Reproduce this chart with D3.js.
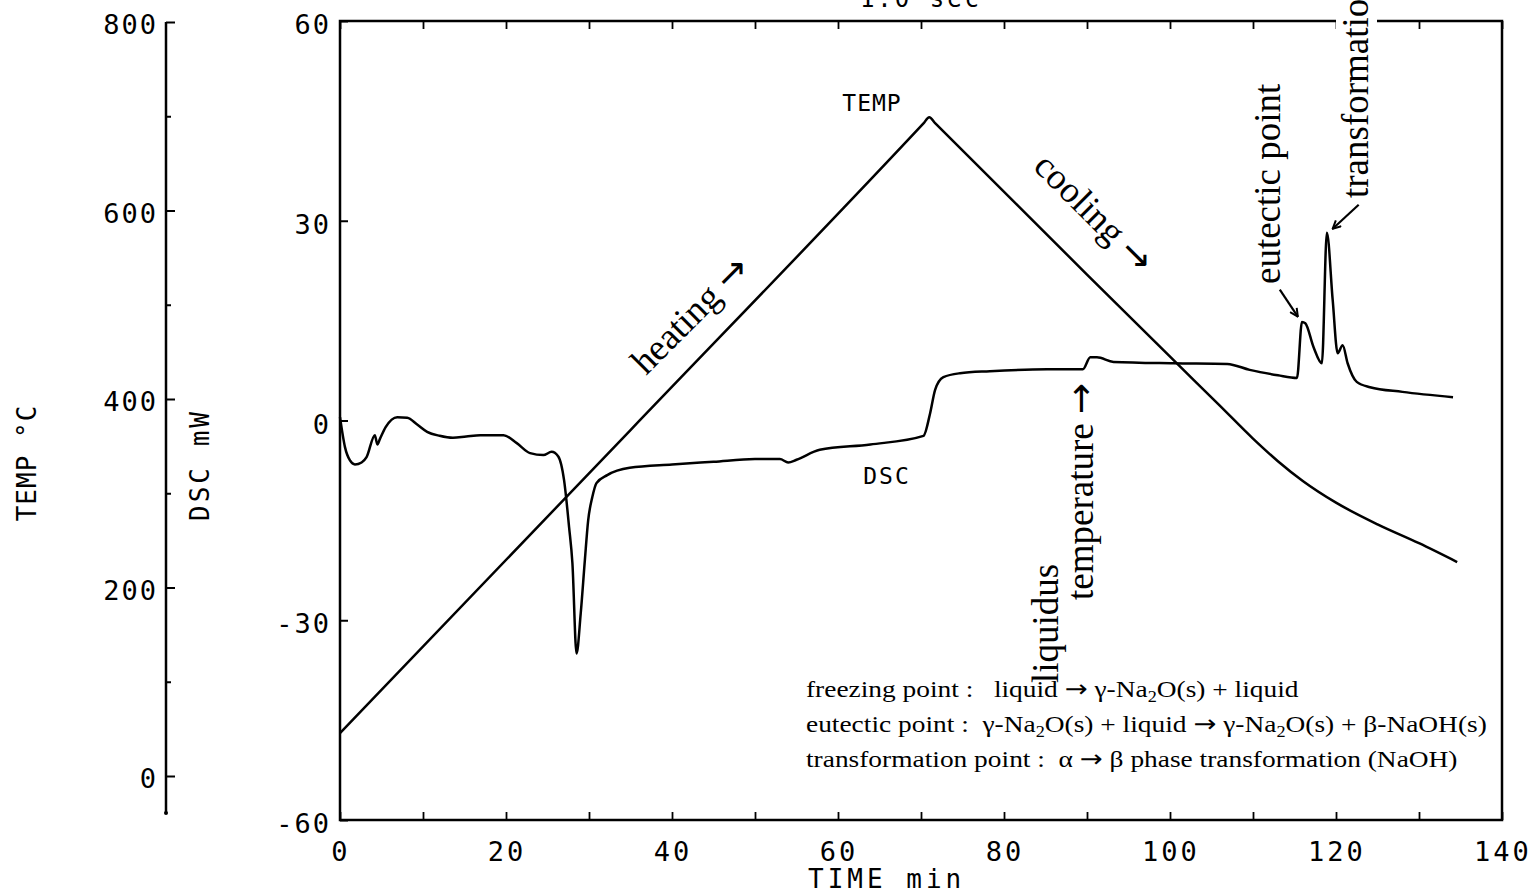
<!DOCTYPE html>
<html><head><meta charset="utf-8">
<script src="https://cdn.jsdelivr.net/npm/d3@7"></script>
<style>
html,body{margin:0;padding:0;background:#fff;overflow:hidden;}
svg{display:block;}
.mono{font-family:"DejaVu Sans Mono",monospace;fill:#000;}
.serif{font-family:"Liberation Serif","Times New Roman",serif;fill:#000;white-space:pre;}
</style></head><body>
<svg id="chart" width="1535" height="894"></svg>
<script>
// ---------- data ----------
const timeTicks = [0,10,20,30,40,50,60,70,80,90,100,110,120,130,140];
const timeLabels = [0,20,40,60,80,100,120,140];
const dscTicks = [-60,-30,0,30,60];
const tempTicks = [0,200,400,600,800];
const tempMinorTicks = [100,300,500,700];

const tempTime   = [0, 35, 70.3, 71, 71.7, 90, 100.8, 106, 110, 113, 116, 120, 125, 130, 134.6];
const tempValues = [45.6, 367, 692.4, 699, 692.8, 532, 438, 393, 358, 334, 313, 290, 267, 247, 227];

const dscTime = [0,0.6,1.2,1.8,2.6,3.2,4.2,4.5,4.8,5.5,6.9,8.1,9.3,10.5,12,13.6,15.2,16.9,19.7,21.3,22.9,24.5,25.5,26.3,27.0,27.6,28.0,28.5,29.0,29.5,29.9,30.4,30.9,32.2,34.9,40,45,50,53,54,55,57.8,63.9,70.3,71.1,71.7,72.7,74.7,78.3,85.2,89.5,90.4,91.2,93.2,100.4,106.9,109.6,113,115.3,115.9,116.3,117.3,118.3,118.9,119.6,120.2,120.8,121.4,122.5,124.1,128,134.1];
const dscValues = [0.5,-4,-6.0,-6.6,-6.3,-5.5,-2.2,-3.6,-2.8,-1.0,0.5,0.4,-0.6,-1.7,-2.3,-2.6,-2.4,-2.2,-2.2,-3.4,-4.9,-5.2,-4.7,-5.4,-9,-16,-21.4,-35,-29,-21,-15,-11.5,-9.4,-8.2,-7.1,-6.6,-6.2,-5.8,-5.8,-6.3,-5.9,-4.4,-3.6,-2.3,1.1,4.6,6.5,7.1,7.4,7.7,7.7,9.5,9.5,8.8,8.6,8.5,7.6,6.8,6.4,14.8,14.6,11.0,8.6,28.2,18.1,10.1,11.3,8.6,5.8,5.0,4.3,3.5];

const legendLines = [
  [["freezing point :   liquid \u2192 \u03b3-Na"],["2",1],["O(s) + liquid"]],
  [["eutectic point :  \u03b3-Na"],["2",1],["O(s) + liquid \u2192 \u03b3-Na"],["2",1],["O(s) + \u03b2-NaOH(s)"]],
  [["transformation point :  \u03b1 \u2192 \u03b2 phase transformation (NaOH)"]]
];

// ---------- helpers ----------
function appendRich(textSel, str) {
  const out = [];
  str.split(/(\u2192)/).forEach(s => {
    if (!s) return;
    const ts = textSel.append("tspan").text(s);
    if (s === "\u2192") ts.attr("font-family","DejaVu Sans");
    out.push(ts);
  });
  return out;
}

// ---------- scales ----------
const svg = d3.select("#chart");
const x = d3.scaleLinear().domain([0,140]).range([340,1502]);
const yD = d3.scaleLinear().domain([-60,60]).range([820,21]);
const yT = d3.scaleLinear().domain([0,800]).range([776,22]);

svg.append("defs").append("marker")
  .attr("id","ah").attr("viewBox","0 0 10 10").attr("refX",9).attr("refY",5)
  .attr("markerWidth",10).attr("markerHeight",10).attr("markerUnits","userSpaceOnUse")
  .attr("orient","auto")
  .append("path").attr("d","M1,1 L9,5 L1,9").attr("fill","none").attr("stroke","#000").attr("stroke-width",2);

// ---------- frame ----------
const lw = 2.5;
svg.append("rect").attr("x",x(0)).attr("y",yD(60)).attr("width",x(140)-x(0)).attr("height",yD(-60)-yD(60))
  .attr("fill","none").attr("stroke","#000").attr("stroke-width",lw);

const gB = svg.append("g").attr("transform",`translate(0,${yD(-60)})`)
  .call(d3.axisBottom(x).tickValues(timeTicks).tickSize(-8).tickFormat(""));
gB.select(".domain").remove();
gB.selectAll("line").attr("stroke","#000").attr("stroke-width",1.8);
const gTop = svg.append("g").attr("transform",`translate(0,${yD(60)})`)
  .call(d3.axisTop(x).tickValues(timeTicks).tickSize(-8).tickFormat(""));
gTop.select(".domain").remove();
gTop.selectAll("line").attr("stroke","#000").attr("stroke-width",1.8);
const gL = svg.append("g").attr("transform",`translate(${x(0)},0)`)
  .call(d3.axisLeft(yD).tickValues(dscTicks).tickSize(-8).tickFormat(""));
gL.select(".domain").remove();
gL.selectAll("line").attr("stroke","#000").attr("stroke-width",2);

// x labels
svg.append("g").selectAll("text").data(timeLabels).join("text")
  .attr("class","mono").attr("x",d=>x(d)+1).attr("y",861)
  .attr("text-anchor","middle").attr("font-size",27).attr("letter-spacing",3)
  .text(d=>d);
svg.append("text").attr("class","mono").attr("x",808).attr("y",888)
  .attr("font-size",26).attr("letter-spacing",4).text("TIME min");

// DSC labels
svg.append("g").selectAll("text").data(dscTicks).join("text")
  .attr("class","mono").attr("x",331).attr("y",d=>yD(d)+13)
  .attr("text-anchor","end").attr("font-size",27).attr("letter-spacing",2)
  .text(d=>String(d));

// TEMP axis
const tx = 166;
svg.append("line").attr("x1",tx).attr("x2",tx).attr("y1",yT(800)).attr("y2",813)
  .attr("stroke","#000").attr("stroke-width",lw);
svg.append("circle").attr("cx",tx).attr("cy",813).attr("r",2).attr("fill","#000");
const gT = svg.append("g").attr("transform",`translate(${tx},0)`)
  .call(d3.axisRight(yT).tickValues(tempTicks).tickSize(9).tickFormat(""));
gT.select(".domain").remove();
gT.selectAll("line").attr("stroke","#000").attr("stroke-width",2);
const gTm = svg.append("g").attr("transform",`translate(${tx},0)`)
  .call(d3.axisRight(yT).tickValues(tempMinorTicks).tickSize(5).tickFormat(""));
gTm.select(".domain").remove();
gTm.selectAll("line").attr("stroke","#000").attr("stroke-width",2);
svg.append("g").selectAll("text").data(tempTicks).join("text")
  .attr("class","mono").attr("x",158).attr("y",d=>yT(d)+12)
  .attr("text-anchor","end").attr("font-size",27).attr("letter-spacing",2)
  .text(d=>d);

// axis titles
svg.append("text").attr("class","mono").attr("transform","translate(27,463) rotate(-90)")
  .attr("text-anchor","middle").attr("dominant-baseline","central").attr("font-size",26).attr("letter-spacing",1)
  .text("TEMP \u00b0C");
svg.append("text").attr("class","mono").attr("transform","translate(200,465) rotate(-90)")
  .attr("text-anchor","middle").attr("dominant-baseline","central").attr("font-size",26).attr("letter-spacing",3)
  .text("DSC mW");
svg.append("text").attr("class","mono").attr("x",921).attr("y",7)
  .attr("text-anchor","middle").attr("font-size",24).attr("letter-spacing",3).text("1.0 sec");

// ---------- curves ----------
const tempData = tempTime.map((t,i)=>[t,tempValues[i]]);
const dscData = dscTime.map((t,i)=>[t,dscValues[i]]);
svg.append("path").datum(tempData)
  .attr("d", d3.line().x(d=>x(d[0])).y(d=>yT(d[1])).curve(d3.curveMonotoneX))
  .attr("fill","none").attr("stroke","#000").attr("stroke-width",2.5);
svg.append("path").datum(dscData)
  .attr("d", d3.line().x(d=>x(d[0])).y(d=>yD(d[1])).curve(d3.curveMonotoneX))
  .attr("fill","none").attr("stroke","#000").attr("stroke-width",2.5).attr("stroke-linejoin","round");

// ---------- annotations ----------
svg.append("text").attr("class","mono").attr("x",872).attr("y",111).attr("text-anchor","middle")
  .attr("font-size",23).attr("letter-spacing",1).text("TEMP");
svg.append("text").attr("class","mono").attr("x",887).attr("y",484).attr("text-anchor","middle")
  .attr("font-size",23).attr("letter-spacing",2).text("DSC");

const fs = 37;
function rotText(tr, str) {
  const t = svg.append("text").attr("class","serif").attr("font-size",fs).attr("transform",tr);
  appendRich(t, str);
  return t;
}
rotText("translate(646,376) rotate(-45)", "heating \u2192");
rotText("translate(1032,168) rotate(45)", "cooling \u2192");
rotText("translate(1058,683) rotate(-90)", "liquidus");
rotText("translate(1093,600) rotate(-90)", "temperature \u2192");
rotText("translate(1280,284) rotate(-90)", "eutectic point");
svg.append("rect").attr("x",1336).attr("y",0).attr("width",41).attr("height",40).attr("fill","#fff");
rotText("translate(1368,198) rotate(-90)", "transformation point");

// diagonal arrows to peaks
const eTip = [x(115.4), yD(15.6)];
svg.append("line").attr("x1",eTip[0]-18).attr("y1",eTip[1]-27).attr("x2",eTip[0]).attr("y2",eTip[1])
  .attr("stroke","#000").attr("stroke-width",2.2).attr("marker-end","url(#ah)");
const tTip = [x(119.6), yD(28.8)];
svg.append("line").attr("x1",tTip[0]+26).attr("y1",tTip[1]-24).attr("x2",tTip[0]).attr("y2",tTip[1])
  .attr("stroke","#000").attr("stroke-width",2.2).attr("marker-end","url(#ah)");

// legend
const lg = svg.append("g");
const baselines = [697,732,767];
const texts = legendLines.map((parts,i)=>{
  const t = lg.append("text").attr("class","serif").attr("font-size",24)
    .attr("transform",`translate(806,${baselines[i]})`);
  let shifted = false;
  parts.forEach(p=>{
    if (p[1]) {
      t.append("tspan").text(p[0]).attr("font-size",16).attr("dy",5);
      shifted = true;
    } else {
      const spans = appendRich(t, p[0]);
      if (shifted) { spans[0].attr("dy",-5); shifted = false; }
    }
  });
  return t;
});
const w2 = texts[1].node().getComputedTextLength();
const sx = 681 / w2;
texts.forEach((t,i)=>t.attr("transform",`translate(806,${baselines[i]}) scale(${sx},1)`));
</script>
</body></html>
